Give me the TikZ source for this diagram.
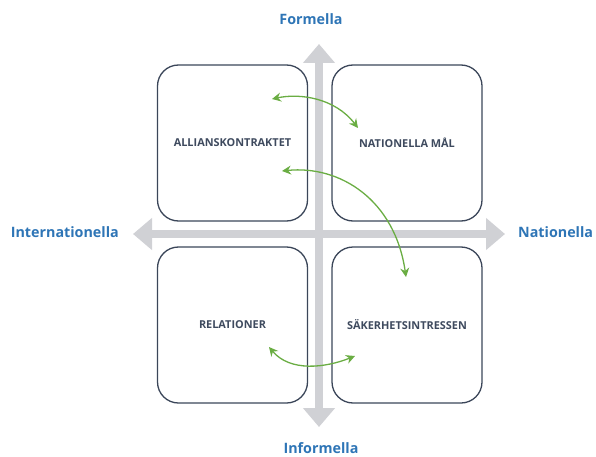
\documentclass[tikz,border=0pt]{standalone}
\usepackage{fontspec}
\setmainfont{Open Sans}
\usetikzlibrary{arrows.meta,calc}
\definecolor{axisgray}{HTML}{D0D1D5}
\definecolor{boxline}{HTML}{3B4659}
\definecolor{boxtext}{HTML}{3E4A5E}
\definecolor{labelblue}{HTML}{2E75B6}
\definecolor{linkgreen}{HTML}{6AAD43}
\tikzset{
	quadrant/.style={draw=boxline, line width=1.3pt, rounded corners=21pt, minimum width=150pt, minimum height=156pt, inner sep=0pt, text=boxtext, font=\bfseries\fontsize{10.9}{12}\selectfont},
	axislabel/.style={text=labelblue, font=\bfseries\fontsize{14.3}{16}\selectfont, inner sep=0pt},
	axisarrow/.style={draw=axisgray, line width=7.5pt, {Triangle[width=31pt,length=19pt]}-{Triangle[width=31pt,length=19pt]}},
	link/.style={draw=linkgreen, line width=1.3pt, {Stealth[width=9pt,length=9pt,inset=3pt]}-{Stealth[width=9pt,length=9pt,inset=3pt]}}
}

\begin{document}
\begin{tikzpicture}[x=1pt, y=-1pt]
		%%%%% START %%%%%
		\useasboundingbox (0, 0) rectangle (596, 457);
		
		% axes
		\coordinate (top) at (319, 44);
		\coordinate (bottom) at (319, 427);
		\coordinate (left) at (133, 234);
		\coordinate (right) at (505, 234);
		\draw[axisarrow] (bottom) -- (top);
		\draw[axisarrow] (left) -- (right);
		
		\node[axislabel] (formella) at (311, 19) {Formella};
		\node[axislabel] (informella) at (321, 448) {Informella};
		\node[axislabel, anchor=east] (internationella) at (119, 232) {Internationella};
		\node[axislabel, anchor=west] (nationella) at (518, 232) {Nationella};
		
		% quadrants
		\node[quadrant] (allians) at (232.5, 143) {ALLIANSKONTRAKTET};
		\node[quadrant] (natmal) at (407, 143) {NATIONELLA MÅL};
		\node[quadrant] (relationer) at (232.5, 325) {RELATIONER};
		\node[quadrant] (sakerhet) at (407, 325) {SÄKERHETSINTRESSEN};
		
		% green links
		\coordinate (a1) at ($(allians.center)+(39.5,-44)$);
		\coordinate (n1) at ($(natmal.center)+(-49,-15)$);
		\coordinate (a2) at ($(allians.center)+(49.5,28)$);
		\coordinate (s1) at ($(sakerhet.center)+(-1,-48)$);
		\coordinate (r1) at ($(relationer.center)+(36.5,22)$);
		\coordinate (s2) at ($(sakerhet.center)+(-52,31)$);
		
		\draw[link] (a1) .. controls (300, 93) and (335, 98) .. (n1);
		\draw[link] (a2) .. controls (340, 165) and (395, 200) .. (s1);
		\draw[link] (r1) .. controls (290, 372) and (325, 368) .. (s2);
		
		%%%%% END %%%%%
	\end{tikzpicture}
\end{document}
